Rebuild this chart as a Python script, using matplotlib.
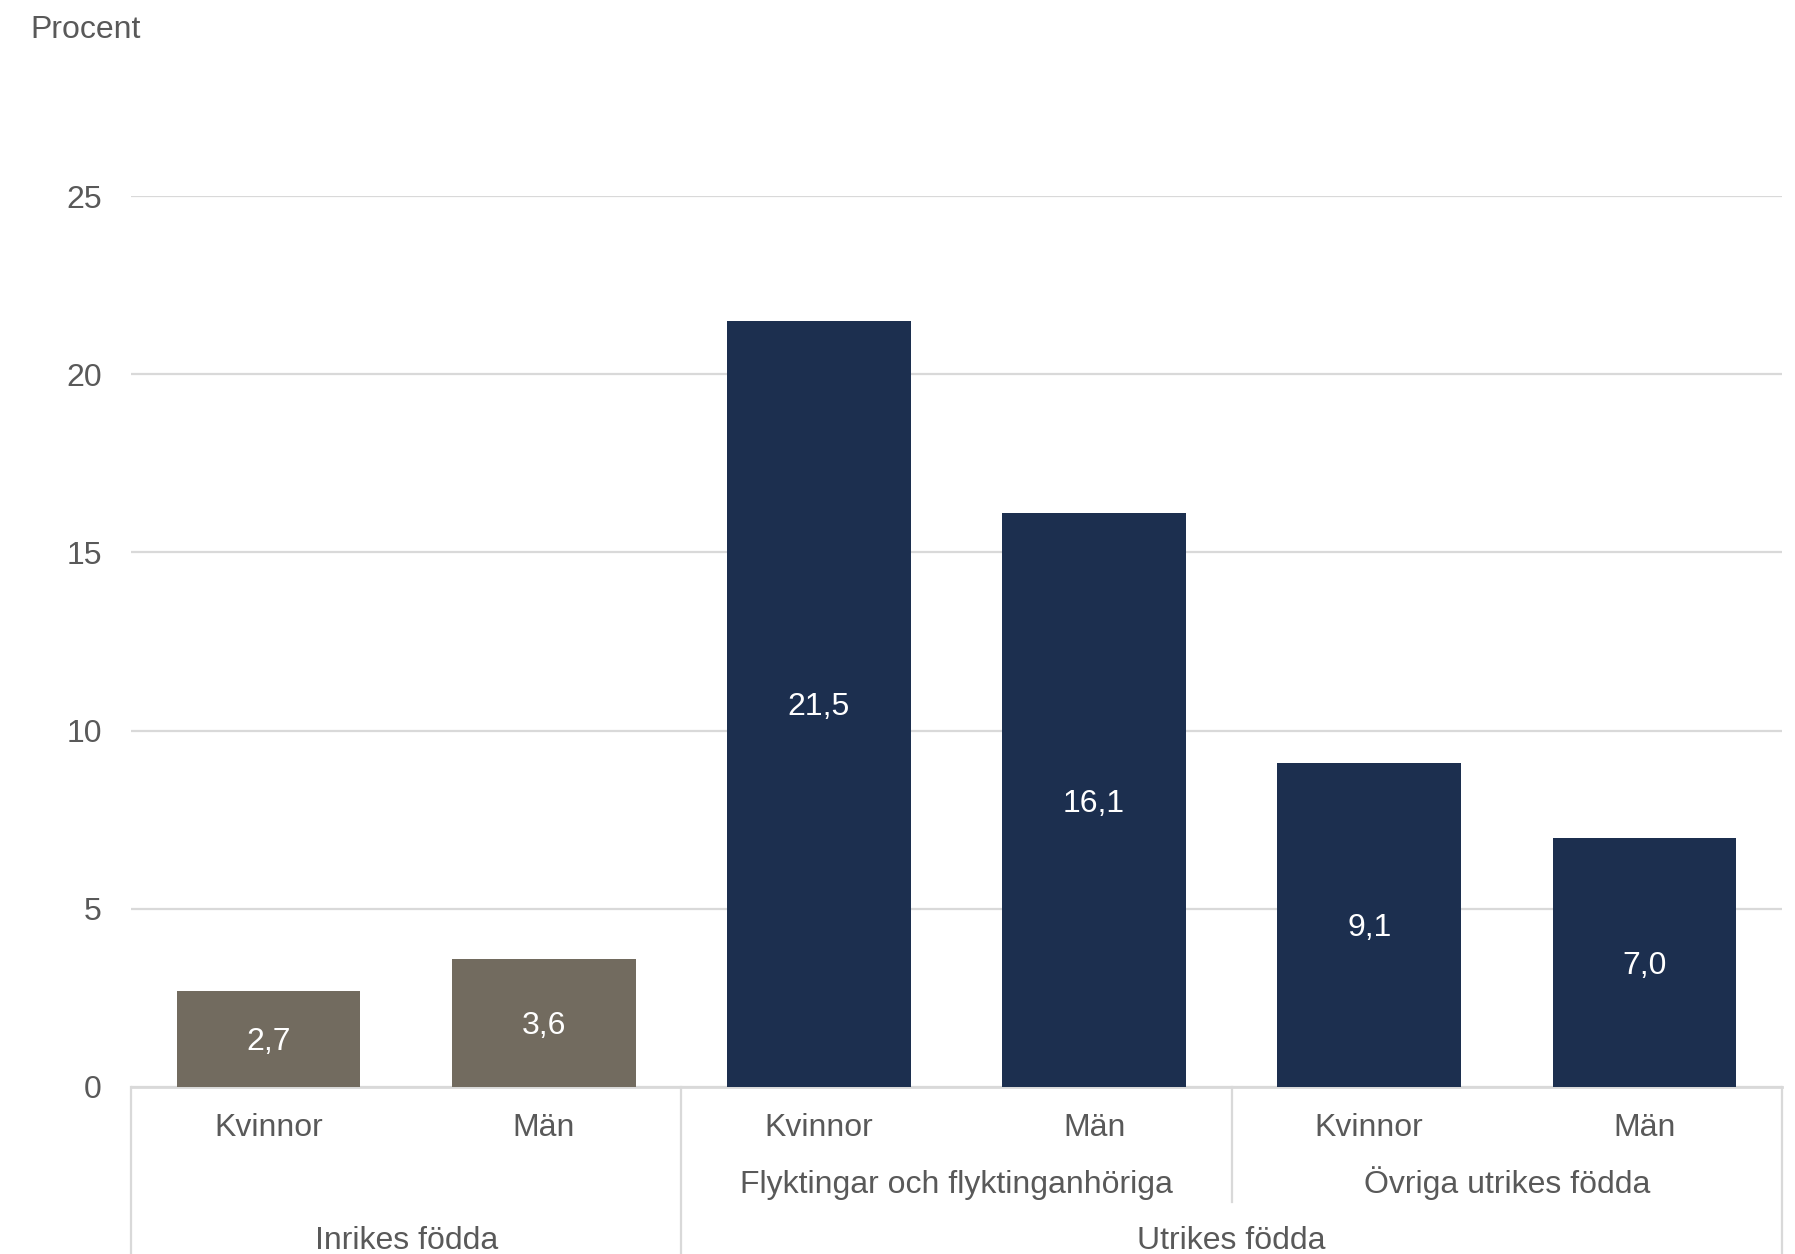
import matplotlib
matplotlib.use("Agg")
import matplotlib.pyplot as plt
import matplotlib.transforms as mtransforms

plt.rcParams['font.family'] = ['Liberation Sans', 'DejaVu Sans']

# Data
sex_labels = ["Kvinnor", "Män", "Kvinnor", "Män", "Kvinnor", "Män"]
values = [2.7, 3.6, 21.5, 16.1, 9.1, 7.0]
value_labels = ["2,7", "3,6", "21,5", "16,1", "9,1", "7,0"]
sub_groups = ["", "Flyktingar och flyktinganhöriga", "Övriga utrikes födda"]
main_groups = ["Inrikes födda", "Utrikes födda"]
yticks = [0, 5, 10, 15, 20, 25]

W, H = 1795, 1254
fig = plt.figure(figsize=(W / 100, H / 100), dpi=100)
left, right = 131 / W, 1782 / W
bottom, top = 1 - 1087 / H, 1 - 196 / H
ax = fig.add_axes([left, bottom, right - left, top - bottom])

gray = "#726B5F"
navy = "#1C2F4F"
txt = "#595959"
grid = "#D9D9D9"
FS = 23

x = list(range(len(values)))
colors = [gray, gray, navy, navy, navy, navy]
bars = ax.bar(x, values, width=0.667, color=colors, zorder=3)
for b, lab in zip(bars, value_labels):
    ax.annotate(lab, (b.get_x() + b.get_width() / 2, b.get_height() / 2),
                xytext=(0, -2.5), textcoords="offset points",
                ha="center", va="center", color="white", fontsize=FS, zorder=4)

ax.set_xlim(-0.5, len(values) - 0.5)
ax.set_ylim(0, 25)
ax.set_yticks(yticks)
ax.set_yticklabels([str(t) for t in yticks])
ax.tick_params(axis="y", length=0, pad=21, labelsize=FS, labelcolor=txt)
ax.set_xticks([])
for s in ["top", "right", "left"]:
    ax.spines[s].set_visible(False)
ax.spines["bottom"].set_color(grid)
ax.spines["bottom"].set_linewidth(2)
ax.yaxis.grid(True, color=grid, linewidth=1.6, zorder=0)
ax.set_axisbelow(True)

trans = mtransforms.blended_transform_factory(ax.transData, fig.transFigure)

def fy(px):
    return 1 - px / H

# level 1 labels
for xi, lab in zip(x, sex_labels):
    ax.text(xi, fy(1136), lab, transform=trans, ha="center", va="baseline",
            fontsize=FS, color=txt)
# level 2 labels
ax.text(2.5, fy(1193), sub_groups[1], transform=trans, ha="center",
        va="baseline", fontsize=FS, color=txt)
ax.text(4.5, fy(1193), sub_groups[2], transform=trans, ha="center",
        va="baseline", fontsize=FS, color=txt)
# level 3 labels
ax.text(0.5, fy(1249), main_groups[0], transform=trans, ha="center",
        va="baseline", fontsize=FS, color=txt)
ax.text(3.5, fy(1249), main_groups[1], transform=trans, ha="center",
        va="baseline", fontsize=FS, color=txt)

# separators
for xs, yend in [(-0.5, 1254), (1.5, 1254), (3.5, 1202), (5.5, 1254)]:
    ax.plot([xs, xs], [fy(1087), fy(yend)], transform=trans, color=grid,
            linewidth=1.6, clip_on=False)

fig.text(30 / W, fy(38), "Procent", ha="left", va="baseline",
         fontsize=FS, color=txt)

fig.savefig("out.png", dpi=100, facecolor="white")
